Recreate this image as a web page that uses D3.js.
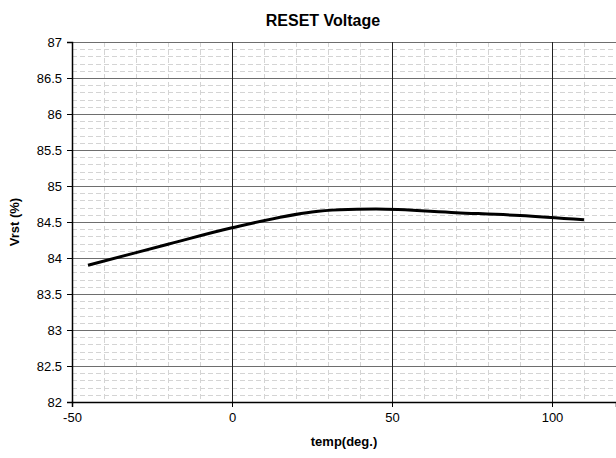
<!DOCTYPE html>
<html>
<head>
<meta charset="utf-8">
<script src="https://cdn.jsdelivr.net/npm/d3@7"></script>
<style>
  body { margin: 0; background: #fff; }
  text { font-family: "Liberation Sans", Arial, sans-serif; }
</style>
</head>
<body>
<div id="chart"></div>
<script>
// data
const temps = [-45, -20, 0, 25, 45, 70, 90, 110]
const vrst = [83.9, 84.19, 84.42, 84.64, 84.68, 84.63, 84.59, 84.53]
const xTicks = [-50, 0, 50, 100]
const yTicks = [82, 82.5, 83, 83.5, 84, 84.5, 85, 85.5, 86, 86.5, 87]

const margin = { top: 42, right: 0, bottom: 56, left: 72 }
const width = 616 - margin.left - margin.right
const height = 458 - margin.top - margin.bottom

const root = d3
  .select('#chart')
  .append('svg')
  .attr('width', 616)
  .attr('height', 458)

const svg = root
  .append('g')
  .attr('transform', 'translate(' + margin.left + ',' + margin.top + ')')

const x = d3.scaleLinear().domain([-50, 120]).range([0, width])
const y = d3.scaleLinear().domain([82, 87]).range([height, 0])

// minor grid
svg
  .append('g')
  .selectAll('line')
  .data(d3.range(-40, 121, 10).filter(d => d % 50 !== 0))
  .enter()
  .append('line')
  .attr('x1', d => Math.round(x(d)) + 0.5)
  .attr('x2', d => Math.round(x(d)) + 0.5)
  .attr('y1', 0)
  .attr('y2', height)
  .attr('stroke', '#d4d4d4')
  .attr('stroke-dasharray', '5,3')

svg
  .append('g')
  .selectAll('line')
  .data(d3.range(1, 50).map(i => 82 + i * 0.1).filter((d, i) => (i + 1) % 5 !== 0))
  .enter()
  .append('line')
  .attr('x1', 0)
  .attr('x2', width)
  .attr('y1', d => Math.round(y(d)) + 0.5)
  .attr('y2', d => Math.round(y(d)) + 0.5)
  .attr('stroke', '#d4d4d4')
  .attr('stroke-dasharray', '5,3')

// major grid
svg
  .append('g')
  .selectAll('line')
  .data(yTicks.slice(1))
  .enter()
  .append('line')
  .attr('x1', 0)
  .attr('x2', width)
  .attr('y1', d => Math.round(y(d)) + 0.5)
  .attr('y2', d => Math.round(y(d)) + 0.5)
  .attr('stroke', '#6e6e6e')
  .attr('stroke-width', 1.2)

svg
  .append('g')
  .selectAll('line')
  .data(xTicks.slice(1))
  .enter()
  .append('line')
  .attr('x1', d => Math.round(x(d)) + 0.5)
  .attr('x2', d => Math.round(x(d)) + 0.5)
  .attr('y1', 0)
  .attr('y2', height)
  .attr('stroke', '#222')
  .attr('stroke-width', 1)

// axes
const xAxis = d3
  .axisBottom(x)
  .tickValues(xTicks)
  .tickSize(5)
  .tickPadding(6)
  .tickFormat(d => String(d))
const yAxis = d3
  .axisLeft(y)
  .tickValues(yTicks)
  .tickSize(5)
  .tickPadding(5)
  .tickFormat(d => String(d))

svg
  .append('g')
  .attr('class', 'x-axis')
  .attr('transform', 'translate(0,' + height + ')')
  .call(xAxis)

svg
  .append('g')
  .attr('class', 'y-axis')
  .call(yAxis)

svg.selectAll('.x-axis text, .y-axis text')
  .attr('font-size', 13)
  .attr('font-family', 'Liberation Sans, Arial, sans-serif')
  .attr('fill', '#000')
svg.selectAll('.x-axis .domain, .y-axis .domain').attr('stroke', '#000').attr('stroke-width', 1.5)
svg.selectAll('.tick line').attr('stroke', '#000')

// curve
const line = d3
  .line()
  .x((d, i) => x(temps[i]))
  .y(d => y(d))
  .curve(d3.curveCatmullRom)

svg
  .append('path')
  .datum(vrst)
  .attr('d', line)
  .attr('fill', 'none')
  .attr('stroke', '#000')
  .attr('stroke-width', 3)

// titles
root
  .append('text')
  .text('RESET Voltage')
  .attr('x', 323)
  .attr('y', 26)
  .attr('text-anchor', 'middle')
  .attr('font-weight', 'bold')
  .attr('font-size', 16)

root
  .append('text')
  .text('temp(deg.)')
  .attr('x', 344)
  .attr('y', 446)
  .attr('text-anchor', 'middle')
  .attr('font-weight', 'bold')
  .attr('font-size', 13)

root
  .append('text')
  .text('Vrst (%)')
  .attr('transform', 'translate(19,' + (margin.top + height / 2) + ') rotate(-90)')
  .attr('text-anchor', 'middle')
  .attr('font-weight', 'bold')
  .attr('font-size', 13)
</script>
</body>
</html>
